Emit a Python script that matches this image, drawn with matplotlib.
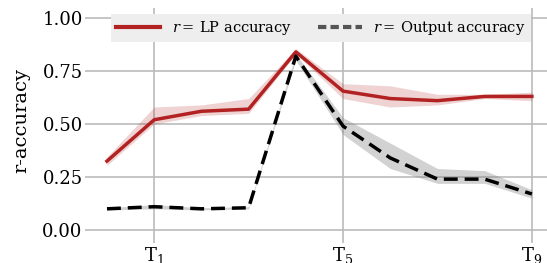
import numpy as np
import matplotlib
matplotlib.use("Agg")
import matplotlib.pyplot as plt
from matplotlib.lines import Line2D

plt.rcParams["font.family"] = ["DejaVu Serif"]
plt.rcParams["mathtext.fontset"] = "dejavuserif"

steps = np.arange(10)
tick_pos = [1, 5, 9]
tick_labels = [r"T$_1$", r"T$_5$", r"T$_9$"]

lp_acc = [0.325, 0.52, 0.56, 0.57, 0.84, 0.655, 0.62, 0.61, 0.63, 0.63]
lp_low = [0.305, 0.50, 0.54, 0.55, 0.83, 0.62, 0.58, 0.59, 0.62, 0.61]
lp_high = [0.345, 0.58, 0.59, 0.62, 0.855, 0.69, 0.68, 0.64, 0.64, 0.65]

out_acc = [0.10, 0.11, 0.10, 0.105, 0.82, 0.49, 0.34, 0.24, 0.24, 0.17]
out_low = [0.095, 0.10, 0.095, 0.10, 0.80, 0.45, 0.29, 0.22, 0.22, 0.15]
out_high = [0.105, 0.12, 0.105, 0.11, 0.83, 0.53, 0.41, 0.29, 0.28, 0.19]

red = "#b22222"

fig, ax = plt.subplots(figsize=(5.47, 2.63), dpi=100)

ax.fill_between(steps, lp_low, lp_high, color=red, alpha=0.2, lw=0)
ax.plot(steps, lp_acc, color=red, lw=2.5)
ax.fill_between(steps, out_low, out_high, color="gray", alpha=0.35, lw=0)
ax.plot(steps, out_acc, color="black", lw=2.5, ls=(0, (4, 2)))

ax.set_xlim(-0.25, 9.32)
ax.set_ylim(-0.014, 1.047)
ax.set_yticks([0, 0.25, 0.5, 0.75, 1.0])
ax.set_xticks(tick_pos)
ax.set_xticklabels(tick_labels)
ax.set_ylabel("r-accuracy", fontsize=14, labelpad=9)
ax.tick_params(labelsize=13, length=7, color="#bbbbbb", width=1.2, pad=2)
ax.grid(True, color="#bbbbbb", lw=1.2)
ax.set_axisbelow(True)
for s in ax.spines.values():
    s.set_visible(False)

handles = [
    Line2D([], [], color=red, lw=3),
    Line2D([], [], color="#555555", lw=3, ls=(0, (2, 1))),
]
labels = [r"$r=\,$LP accuracy", r"$r=\,$Output accuracy"]
leg = ax.legend(handles, labels, ncol=2, loc="upper center", bbox_to_anchor=(0.5, 1.005),
                frameon=True, fontsize=10.5, handlelength=3, columnspacing=1.8,
                borderpad=0.35, fancybox=False)
leg.get_frame().set_facecolor("#eeeeee")
leg.get_frame().set_edgecolor("none")
leg.get_frame().set_alpha(1)

fig.subplots_adjust(left=0.174, right=1.0, top=0.9696, bottom=0.1141)
fig.savefig("out.png", dpi=100)
